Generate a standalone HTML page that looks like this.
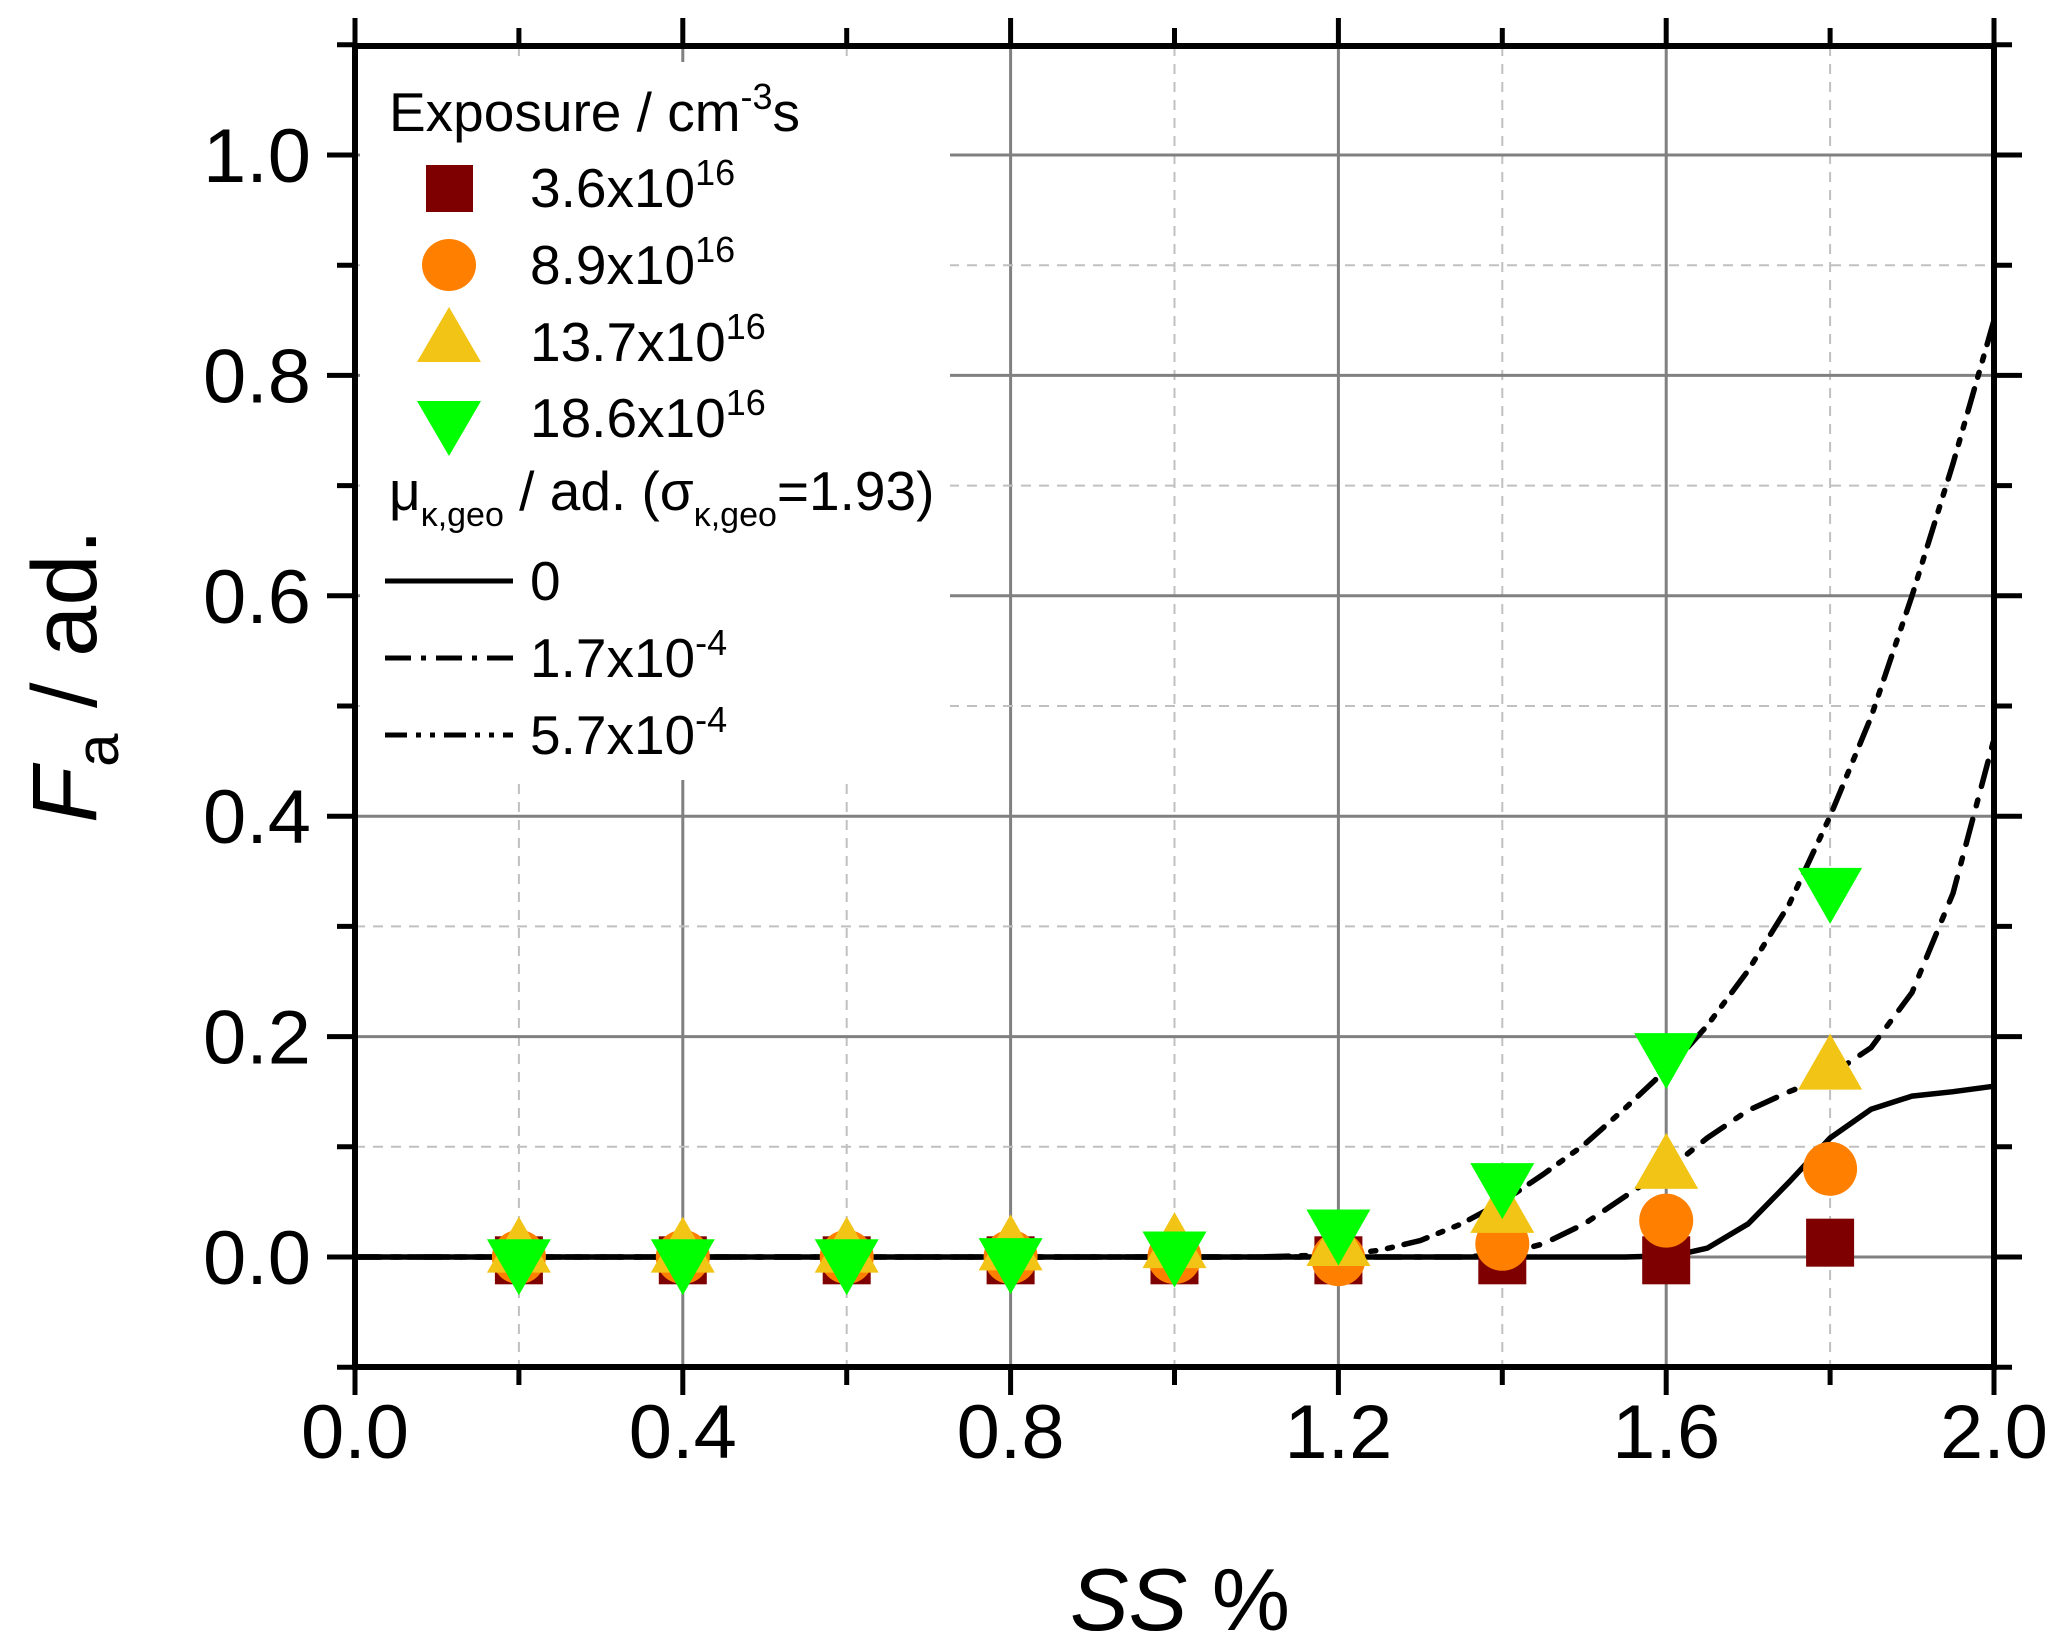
<!DOCTYPE html>
<html><head><meta charset="utf-8"><style>
html,body{margin:0;padding:0;background:#fff;}
svg{display:block;font-family:"Liberation Sans",sans-serif;}
</style></head><body>
<svg id="chart" width="2067" height="1642" viewBox="0 0 2067 1642" xmlns="http://www.w3.org/2000/svg">
<g id="grid"></g>
<rect x="360" y="62" width="590" height="718" fill="#fff"/>
<g id="curves"></g>
<g id="marks"></g>
<g id="axes"></g>
<g font-size="55">
 <text x="389" y="131">Exposure / cm<tspan dy="-22" font-size="36">-3</tspan><tspan dy="22">s</tspan></text>
 <rect x="426" y="165" width="47" height="47" fill="#7f0000"/>
 <text x="530" y="207">3.6x10<tspan dy="-22" font-size="36">16</tspan></text>
 <ellipse cx="449" cy="265" rx="27" ry="26" fill="#ff8000"/>
 <text x="530" y="284">8.9x10<tspan dy="-22" font-size="36">16</tspan></text>
 <polygon points="449,307 481,362 417,362" fill="#f2c416"/>
 <text x="530" y="361">13.7x10<tspan dy="-22" font-size="36">16</tspan></text>
 <polygon points="417,401 481,401 449,456" fill="#00ff00"/>
 <text x="530" y="437">18.6x10<tspan dy="-22" font-size="36">16</tspan></text>
 <text x="389" y="510">μ<tspan dy="16" font-size="34">κ,geo</tspan><tspan dy="-16"> / ad. (σ</tspan><tspan dy="16" font-size="34">κ,geo</tspan><tspan dy="-16">=1.93)</tspan></text>
 <line x1="385" y1="581" x2="513" y2="581" stroke="#000" stroke-width="5"/>
 <text x="530" y="600">0</text>
 <line x1="385" y1="658" x2="513" y2="658" stroke="#000" stroke-width="5" stroke-dasharray="26,10,5,10"/>
 <text x="530" y="677">1.7x10<tspan dy="-22" font-size="36">-4</tspan></text>
 <line x1="385" y1="735" x2="513" y2="735" stroke="#000" stroke-width="5" stroke-dasharray="22,9,5,9,5,9"/>
 <text x="530" y="754">5.7x10<tspan dy="-22" font-size="36">-4</tspan></text>
</g>
<text transform="translate(96,676) rotate(-90)" text-anchor="middle" font-size="92"><tspan font-style="italic">F</tspan><tspan dy="22" font-size="60">a</tspan><tspan dy="-22"> / ad.</tspan></text>
<text x="1180" y="1630" text-anchor="middle" font-size="88"><tspan font-style="italic">SS</tspan> %</text>
<script>
const xTicks=[0,0.4,0.8,1.2,1.6,2.0];
const xTickLabels=["0.0","0.4","0.8","1.2","1.6","2.0"];
const yTicks=[0,0.2,0.4,0.6,0.8,1.0];
const yTickLabels=["0.0","0.2","0.4","0.6","0.8","1.0"];
const ssValues=[0.2,0.4,0.6,0.8,1.0,1.2,1.4,1.6,1.8];
const seriesSquare=[-0.003,-0.003,-0.003,-0.003,-0.003,-0.003,-0.003,-0.003,0.013];
const seriesCircle=[0,0,0,0,0,-0.002,0.012,0.033,0.08];
const seriesTriUp=[0.004,0.004,0.004,0.006,0.008,0.01,0.04,0.08,0.17];
const seriesTriDown=[-0.002,-0.002,-0.002,-0.001,0.005,0.025,0.067,0.185,0.335];
const curveX=[0,0.4,0.8,1.0,1.1,1.2,1.25,1.3,1.35,1.4,1.45,1.5,1.55,1.6,1.62,1.65,1.7,1.75,1.8,1.85,1.9,1.95,2.0];
const curveSolid=[0,0,0,0,0,0,0,0,0,0,0,0,0,0.001,0.003,0.008,0.03,0.068,0.108,0.134,0.146,0.15,0.155];
const curveDashDot=[0,0,0,0,0,0,0,0,0,0.002,0.012,0.03,0.055,0.08,0.09,0.108,0.133,0.15,0.165,0.19,0.24,0.33,0.47];
const curveDashDotDot=[0,0,0,0,0,0.002,0.006,0.015,0.03,0.05,0.075,0.102,0.135,0.17,0.185,0.21,0.26,0.32,0.4,0.49,0.6,0.72,0.85];

const NS="http://www.w3.org/2000/svg";
const X0=355,X1=1994,Y0=1257,YS=1102;
const xs=v=>X0+(v/2)*(X1-X0);
const ys=v=>Y0-v*YS;
function mk(tag,parent,attrs){const e=document.createElementNS(NS,tag);for(const k in attrs)e.setAttribute(k,attrs[k]);parent.appendChild(e);return e;}
const grid=document.getElementById('grid'),axes=document.getElementById('axes'),marks=document.getElementById('marks'),curves=document.getElementById('curves');
const YT=46,YB=1367;
for(let i=1;i<10;i++){const v=i*0.2;const major=(i%2===0);
 const l=mk('line',grid,{x1:xs(v),x2:xs(v),y1:YT,y2:YB,stroke:major?'#808080':'#c0c0c0','stroke-width':major?3:2,'stroke-dasharray':major?'none':'10,8'});
 
 }
for(let i=0;i<=10;i++){const v=i*0.1;const major=(i%2===0);
 const l=mk('line',grid,{x1:X0,x2:X1,y1:ys(v),y2:ys(v),stroke:major?'#808080':'#c0c0c0','stroke-width':major?3:2,'stroke-dasharray':major?'none':'10,8'});
 
 }
function path(arr){return arr.map((v,i)=>(i?'L':'M')+xs(curveX[i]).toFixed(1)+','+ys(v).toFixed(1)).join(' ');}
const c1=mk('path',curves,{d:path(curveSolid),fill:'none',stroke:'#000','stroke-width':5.5});


const c2=mk('path',curves,{d:path(curveDashDot),fill:'none',stroke:'#000','stroke-width':5.5,'stroke-dasharray':'26,14,6,14','stroke-linecap':'round'});


const c3=mk('path',curves,{d:path(curveDashDotDot),fill:'none',stroke:'#000','stroke-width':5.5,'stroke-dasharray':'24,12,5,12,5,12','stroke-linecap':'round'});


ssValues.forEach((s,i)=>{const cx=xs(s);
 let y=ys(seriesSquare[i]);
 const a=mk('rect',marks,{x:cx-24,y:y-24,width:48,height:48,fill:'#7f0000'});
 
 
 y=ys(seriesCircle[i]);
 const b=mk('ellipse',marks,{cx:cx,cy:y,rx:27,ry:27,fill:'#ff8000'});
 
 
 y=ys(seriesTriUp[i]);
 const c=mk('polygon',marks,{points:`${cx},${y-36} ${cx+32},${y+20} ${cx-32},${y+20}`,fill:'#f2c416'});
 
 
 y=ys(seriesTriDown[i]);
 const d=mk('polygon',marks,{points:`${cx-32},${y-20} ${cx+32},${y-20} ${cx},${y+36}`,fill:'#00ff00'});
 
 
});
const fr=mk('rect',axes,{x:X0,y:YT,width:X1-X0,height:YB-YT,fill:'none',stroke:'#000','stroke-width':6});


for(let i=0;i<=10;i++){const v=i*0.2,major=i%2===0,len=major?28:18;
 const t=mk('line',axes,{x1:xs(v),x2:xs(v),y1:YB,y2:YB+len,stroke:'#000','stroke-width':5});
 
 
 const t2=mk('line',axes,{x1:xs(v),x2:xs(v),y1:YT,y2:YT-len,stroke:'#000','stroke-width':5});
 
 }
for(let i=-1;i<=11;i++){const v=i*0.1,major=(i+10)%2===0,len=major?28:18;
 const t=mk('line',axes,{x1:X0-len,x2:X0,y1:ys(v),y2:ys(v),stroke:'#000','stroke-width':5});
 
 
 const t2=mk('line',axes,{x1:X1,x2:X1+len,y1:ys(v),y2:ys(v),stroke:'#000','stroke-width':5});
 
 }
xTicks.forEach((v,i)=>{const t=mk('text',axes,{x:xs(v),y:1458,'text-anchor':'middle','font-size':76,textLength:108,lengthAdjust:'spacingAndGlyphs'});t.textContent=xTickLabels[i];
 
 });
yTicks.forEach((v,i)=>{const t=mk('text',axes,{x:311,y:ys(v)+27,'text-anchor':'end','font-size':76,textLength:108,lengthAdjust:'spacingAndGlyphs'});t.textContent=yTickLabels[i];
 
 });
</script>
</svg>
</body></html>
